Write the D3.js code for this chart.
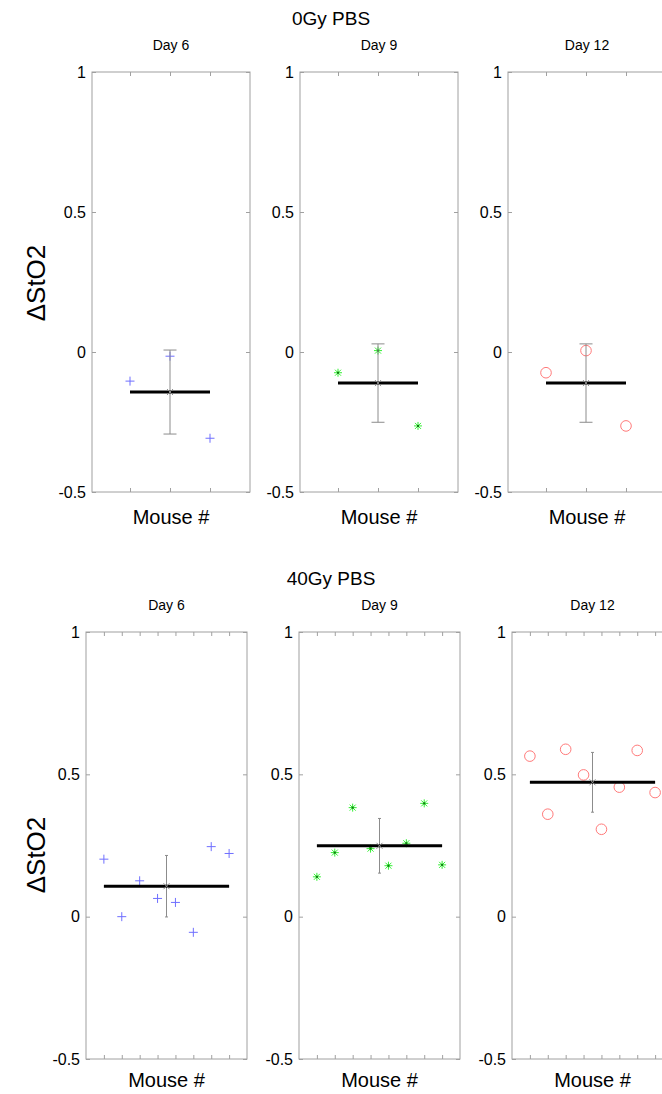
<!DOCTYPE html>
<html><head><meta charset="utf-8">
<script src="https://cdn.jsdelivr.net/npm/d3@7"></script>
<style>
html,body{margin:0;padding:0;background:#fff;overflow:hidden;}
svg{display:block;font-family:"Liberation Sans",Arial,Helvetica,sans-serif;}
</style></head>
<body>
<svg id="chart" width="662" height="1094"></svg>
<script>
// ---- data ----
const rowTitles = ["0Gy PBS", "40Gy PBS"];
const dayLabels = ["Day 6", "Day 9", "Day 12"];
const yTicks = [-0.5, 0, 0.5, 1];
const yTickLabels = ["-0.5", "0", "0.5", "1"];
const xLabel = "Mouse #";
const yLabel = "\u0394StO2";

const gy0Day6  = [-0.104, -0.015, -0.308];
const gy0Day9  = [-0.074, 0.005, -0.264];
const gy0Day12 = [-0.074, 0.005, -0.264];
const gy0Means = [-0.143, -0.111, -0.111];
const gy0Errs  = [0.150, 0.140, 0.140];

const gy40Day6  = [0.202, 0.000, 0.126, 0.064, 0.050, -0.055, 0.246, 0.222];
const gy40Day9  = [0.140, 0.225, 0.383, 0.239, 0.179, 0.258, 0.398, 0.182];
const gy40Day12 = [0.564, 0.360, 0.588, 0.498, 0.307, 0.455, 0.584, 0.436];
const gy40Means = [0.107, 0.249, 0.472];
const gy40Errs  = [0.108, 0.096, 0.105];

const markerTypes = ["plus", "star", "circle"];

// ---- layout ----
const svg = d3.select("#chart");
const rows = [
  {title: rowTitles[0], series: [gy0Day6, gy0Day9, gy0Day12], means: gy0Means, errs: gy0Errs,
   top: 72, bottom: 492, lefts: [92, 300, 508], width: 158, xdom: [0.05, 4],
   titleY: 25, dayY: 50, mouseY: 524, ylabY: 283, cap: 6.5},
  {title: rowTitles[1], series: [gy40Day6, gy40Day9, gy40Day12], means: gy40Means, errs: gy40Errs,
   top: 632, bottom: 1059, lefts: [86, 299, 512], width: 161, xdom: [0, 9],
   titleY: 585, dayY: 610, mouseY: 1087, ylabY: 855, cap: 1.5}
];
const colors = {plus: "#6f6fff", star: "#33f033", circle: "#ff7a7a"};
const axisColor = "#a0a0a0";

rows.forEach(row => {
  svg.append("text").attr("x", 331).attr("y", row.titleY).attr("text-anchor", "middle")
    .attr("font-size", 19).attr("fill", "#000").text(row.title);
  svg.append("text").attr("transform", `translate(45,${row.ylabY}) rotate(-90)`)
    .attr("text-anchor", "middle").attr("font-size", 26).attr("fill", "#000").text(yLabel);

  row.series.forEach((vals, i) => {
    const left = row.lefts[i], right = left + row.width;
    const x = d3.scaleLinear().domain(row.xdom).range([left, right]);
    const y = d3.scaleLinear().domain([-0.5, 1]).range([row.bottom, row.top]);
    const g = svg.append("g");
    const idx = vals.map((v, k) => k + 1);

    // box
    g.append("rect").attr("x", left).attr("y", row.top).attr("width", row.width)
      .attr("height", row.bottom - row.top).attr("fill", "none").attr("stroke", axisColor).attr("stroke-width", 1);

    // y axis left & right (inward ticks)
    const yl = g.append("g").attr("transform", `translate(${left},0)`)
      .call(d3.axisRight(y).tickValues(yTicks).tickSize(4).tickFormat(""));
    const yr = g.append("g").attr("transform", `translate(${right},0)`)
      .call(d3.axisLeft(y).tickValues(yTicks).tickSize(4).tickFormat(""));
    [yl, yr].forEach(a => { a.select(".domain").remove(); a.selectAll("line").attr("stroke", axisColor); });
    g.selectAll(null).data(yTicks).enter().append("text")
      .attr("x", left - 6).attr("y", d => y(d)).attr("dy", "0.36em")
      .attr("text-anchor", "end").attr("font-size", 16).attr("fill", "#000")
      .text((d, k) => yTickLabels[k]);

    // x ticks bottom & top (inward)
    const xb = g.append("g").attr("transform", `translate(0,${row.bottom})`)
      .call(d3.axisTop(x).tickValues(idx).tickSize(4).tickFormat(""));
    const xt = g.append("g").attr("transform", `translate(0,${row.top})`)
      .call(d3.axisBottom(x).tickValues(idx).tickSize(4).tickFormat(""));
    [xb, xt].forEach(a => { a.select(".domain").remove(); a.selectAll("line").attr("stroke", axisColor); });

    // titles
    g.append("text").attr("x", (left + right) / 2).attr("y", row.dayY).attr("text-anchor", "middle")
      .attr("font-size", 14).attr("fill", "#000").text(dayLabels[i]);
    g.append("text").attr("x", (left + right) / 2).attr("y", row.mouseY).attr("text-anchor", "middle")
      .attr("font-size", 20).attr("fill", "#000").text(xLabel);

    // points
    const type = markerTypes[i], col = colors[type];
    const pts = g.selectAll(null).data(vals).enter().append("g")
      .attr("transform", (d, k) => `translate(${x(k + 1)},${y(d)})`);
    if (type === "plus") {
      pts.append("path").attr("d", "M-4.5,0H4.5M0,-4.5V4.5").attr("stroke", col).attr("stroke-width", 1).attr("fill", "none");
    } else if (type === "star") {
      pts.append("path").attr("d", "M-4,0H4M0,-4V4M-3,-3L3,3M-3,3L3,-3").attr("stroke", col).attr("stroke-width", 1).attr("fill", "none");
      pts.append("rect").attr("x", -1).attr("y", -1).attr("width", 2).attr("height", 2).attr("fill", "#117711");
    } else {
      pts.append("circle").attr("r", 5.3).attr("stroke", col).attr("stroke-width", 1).attr("fill", "none");
    }

    // error bar
    const m = row.means[i], e = row.errs[i];
    const xc = x((1 + vals.length) / 2);
    g.append("line").attr("x1", xc).attr("x2", xc).attr("y1", y(m + e)).attr("y2", y(m - e))
      .attr("stroke", "#8c8c8c").attr("stroke-width", 1);
    [m + e, m - e].forEach(v => {
      g.append("line").attr("x1", xc - row.cap).attr("x2", xc + row.cap).attr("y1", y(v)).attr("y2", y(v))
        .attr("stroke", "#8c8c8c").attr("stroke-width", 1);
    });

    // mean line
    g.append("line").attr("x1", x(1)).attr("x2", x(vals.length)).attr("y1", y(m)).attr("y2", y(m))
      .attr("stroke", "#000").attr("stroke-width", 3);
    g.append("path").attr("transform", `translate(${xc},${y(m)})`)
      .attr("d", "M-3,-3L3,3M-3,3L3,-3").attr("stroke", "#8c8c8c").attr("stroke-width", 1).attr("fill", "none");
  });
});
</script>
</body></html>
